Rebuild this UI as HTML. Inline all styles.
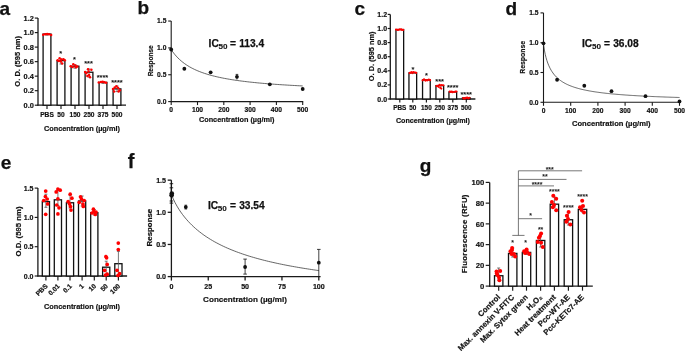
<!DOCTYPE html>
<html><head><meta charset="utf-8"><style>
html,body{margin:0;padding:0;background:#fff;width:685px;height:352px;overflow:hidden}
svg{display:block;will-change:transform;font-family:"Liberation Sans",sans-serif}
</style></head><body>
<svg width="685" height="352" viewBox="0 0 685 352">
<rect width="685" height="352" fill="#fff"/>
<text x="-0.60" y="14.50" font-size="19" text-anchor="start" font-weight="bold" fill="#111" stroke="#111" stroke-width="0.25">a</text>
<text x="137.50" y="14.20" font-size="19" text-anchor="start" font-weight="bold" fill="#111" stroke="#111" stroke-width="0.25">b</text>
<text x="354.40" y="14.80" font-size="19" text-anchor="start" font-weight="bold" fill="#111" stroke="#111" stroke-width="0.25">c</text>
<text x="505.50" y="14.50" font-size="19" text-anchor="start" font-weight="bold" fill="#111" stroke="#111" stroke-width="0.25">d</text>
<text x="0.80" y="168.90" font-size="19" text-anchor="start" font-weight="bold" fill="#111" stroke="#111" stroke-width="0.25">e</text>
<text x="127.80" y="168.30" font-size="20" text-anchor="start" font-weight="bold" fill="#111" stroke="#111" stroke-width="0.25">f</text>
<text x="419.70" y="172.00" font-size="19" text-anchor="start" font-weight="bold" fill="#111" stroke="#111" stroke-width="0.25">g</text>
<line x1="38.00" y1="18.08" x2="38.00" y2="105.80" stroke="#1a1a1a" stroke-width="1.3"/>
<line x1="34.80" y1="105.20" x2="38.00" y2="105.20" stroke="#1a1a1a" stroke-width="1.1700000000000002"/>
<text x="33.80" y="107.86" font-size="7.4" text-anchor="end" font-weight="bold" fill="#111" stroke="#111" stroke-width="0.18">0.0</text>
<line x1="34.80" y1="90.68" x2="38.00" y2="90.68" stroke="#1a1a1a" stroke-width="1.1700000000000002"/>
<text x="33.80" y="93.34" font-size="7.4" text-anchor="end" font-weight="bold" fill="#111" stroke="#111" stroke-width="0.18">0.2</text>
<line x1="34.80" y1="76.16" x2="38.00" y2="76.16" stroke="#1a1a1a" stroke-width="1.1700000000000002"/>
<text x="33.80" y="78.82" font-size="7.4" text-anchor="end" font-weight="bold" fill="#111" stroke="#111" stroke-width="0.18">0.4</text>
<line x1="34.80" y1="61.64" x2="38.00" y2="61.64" stroke="#1a1a1a" stroke-width="1.1700000000000002"/>
<text x="33.80" y="64.30" font-size="7.4" text-anchor="end" font-weight="bold" fill="#111" stroke="#111" stroke-width="0.18">0.6</text>
<line x1="34.80" y1="47.12" x2="38.00" y2="47.12" stroke="#1a1a1a" stroke-width="1.1700000000000002"/>
<text x="33.80" y="49.78" font-size="7.4" text-anchor="end" font-weight="bold" fill="#111" stroke="#111" stroke-width="0.18">0.8</text>
<line x1="34.80" y1="32.60" x2="38.00" y2="32.60" stroke="#1a1a1a" stroke-width="1.1700000000000002"/>
<text x="33.80" y="35.26" font-size="7.4" text-anchor="end" font-weight="bold" fill="#111" stroke="#111" stroke-width="0.18">1.0</text>
<line x1="34.80" y1="18.08" x2="38.00" y2="18.08" stroke="#1a1a1a" stroke-width="1.1700000000000002"/>
<text x="33.80" y="20.74" font-size="7.4" text-anchor="end" font-weight="bold" fill="#111" stroke="#111" stroke-width="0.18">1.2</text>
<line x1="37.40" y1="105.20" x2="126.00" y2="105.20" stroke="#1a1a1a" stroke-width="1.3"/>
<rect x="43.10" y="34.05" width="7.80" height="71.15" stroke="#111" stroke-width="1.3" fill="#fff"/>
<line x1="47.00" y1="105.20" x2="47.00" y2="108.90" stroke="#1a1a1a" stroke-width="1.1700000000000002"/>
<rect x="57.10" y="60.62" width="7.80" height="44.58" stroke="#111" stroke-width="1.3" fill="#fff"/>
<line x1="61.00" y1="105.20" x2="61.00" y2="108.90" stroke="#1a1a1a" stroke-width="1.1700000000000002"/>
<rect x="71.10" y="66.21" width="7.80" height="38.99" stroke="#111" stroke-width="1.3" fill="#fff"/>
<line x1="75.00" y1="105.20" x2="75.00" y2="108.90" stroke="#1a1a1a" stroke-width="1.1700000000000002"/>
<rect x="85.10" y="72.24" width="7.80" height="32.96" stroke="#111" stroke-width="1.3" fill="#fff"/>
<line x1="89.00" y1="105.20" x2="89.00" y2="108.90" stroke="#1a1a1a" stroke-width="1.1700000000000002"/>
<rect x="99.10" y="82.40" width="7.80" height="22.80" stroke="#111" stroke-width="1.3" fill="#fff"/>
<line x1="103.00" y1="105.20" x2="103.00" y2="108.90" stroke="#1a1a1a" stroke-width="1.1700000000000002"/>
<rect x="113.10" y="88.87" width="7.80" height="16.33" stroke="#111" stroke-width="1.3" fill="#fff"/>
<line x1="117.00" y1="105.20" x2="117.00" y2="108.90" stroke="#1a1a1a" stroke-width="1.1700000000000002"/>
<line x1="47.00" y1="33.80" x2="47.00" y2="35.20" stroke="#555" stroke-width="0.8"/>
<line x1="45.50" y1="33.80" x2="48.50" y2="33.80" stroke="#555" stroke-width="0.8"/>
<line x1="45.50" y1="35.20" x2="48.50" y2="35.20" stroke="#555" stroke-width="0.8"/>
<line x1="61.00" y1="59.00" x2="61.00" y2="64.00" stroke="#555" stroke-width="0.8"/>
<line x1="59.50" y1="59.00" x2="62.50" y2="59.00" stroke="#555" stroke-width="0.8"/>
<line x1="59.50" y1="64.00" x2="62.50" y2="64.00" stroke="#555" stroke-width="0.8"/>
<line x1="75.00" y1="64.80" x2="75.00" y2="68.20" stroke="#555" stroke-width="0.8"/>
<line x1="73.50" y1="64.80" x2="76.50" y2="64.80" stroke="#555" stroke-width="0.8"/>
<line x1="73.50" y1="68.20" x2="76.50" y2="68.20" stroke="#555" stroke-width="0.8"/>
<line x1="89.00" y1="69.00" x2="89.00" y2="77.00" stroke="#555" stroke-width="0.8"/>
<line x1="87.50" y1="69.00" x2="90.50" y2="69.00" stroke="#555" stroke-width="0.8"/>
<line x1="87.50" y1="77.00" x2="90.50" y2="77.00" stroke="#555" stroke-width="0.8"/>
<line x1="103.00" y1="81.80" x2="103.00" y2="83.40" stroke="#555" stroke-width="0.8"/>
<line x1="101.50" y1="81.80" x2="104.50" y2="81.80" stroke="#555" stroke-width="0.8"/>
<line x1="101.50" y1="83.40" x2="104.50" y2="83.40" stroke="#555" stroke-width="0.8"/>
<line x1="117.00" y1="86.00" x2="117.00" y2="91.60" stroke="#555" stroke-width="0.8"/>
<line x1="115.50" y1="86.00" x2="118.50" y2="86.00" stroke="#555" stroke-width="0.8"/>
<line x1="115.50" y1="91.60" x2="118.50" y2="91.60" stroke="#555" stroke-width="0.8"/>
<circle cx="43.20" cy="34.80" r="1.25" fill="#ff0000"/>
<circle cx="45.20" cy="34.20" r="1.25" fill="#ff0000"/>
<circle cx="47.20" cy="33.90" r="1.25" fill="#ff0000"/>
<circle cx="49.10" cy="34.20" r="1.25" fill="#ff0000"/>
<circle cx="51.10" cy="35.10" r="1.25" fill="#ff0000"/>
<circle cx="57.60" cy="60.30" r="1.25" fill="#ff0000"/>
<circle cx="59.60" cy="58.30" r="1.25" fill="#ff0000"/>
<circle cx="61.50" cy="59.60" r="1.25" fill="#ff0000"/>
<circle cx="63.50" cy="59.20" r="1.25" fill="#ff0000"/>
<circle cx="64.80" cy="60.30" r="1.25" fill="#ff0000"/>
<circle cx="60.90" cy="61.60" r="1.25" fill="#ff0000"/>
<circle cx="62.20" cy="63.60" r="1.25" fill="#ff0000"/>
<circle cx="58.90" cy="61.00" r="1.25" fill="#ff0000"/>
<circle cx="70.70" cy="66.20" r="1.25" fill="#ff0000"/>
<circle cx="73.30" cy="64.20" r="1.25" fill="#ff0000"/>
<circle cx="75.25" cy="65.50" r="1.25" fill="#ff0000"/>
<circle cx="77.20" cy="66.60" r="1.25" fill="#ff0000"/>
<circle cx="72.60" cy="67.10" r="1.25" fill="#ff0000"/>
<circle cx="76.00" cy="67.30" r="1.25" fill="#ff0000"/>
<circle cx="85.10" cy="72.00" r="1.25" fill="#ff0000"/>
<circle cx="88.00" cy="69.20" r="1.25" fill="#ff0000"/>
<circle cx="91.40" cy="69.80" r="1.25" fill="#ff0000"/>
<circle cx="88.50" cy="71.50" r="1.25" fill="#ff0000"/>
<circle cx="86.25" cy="73.20" r="1.25" fill="#ff0000"/>
<circle cx="89.10" cy="74.90" r="1.25" fill="#ff0000"/>
<circle cx="87.40" cy="76.00" r="1.25" fill="#ff0000"/>
<circle cx="90.00" cy="77.20" r="1.25" fill="#ff0000"/>
<circle cx="98.75" cy="82.50" r="1.25" fill="#ff0000"/>
<circle cx="101.00" cy="82.00" r="1.25" fill="#ff0000"/>
<circle cx="102.70" cy="81.80" r="1.25" fill="#ff0000"/>
<circle cx="104.40" cy="82.30" r="1.25" fill="#ff0000"/>
<circle cx="106.10" cy="82.80" r="1.25" fill="#ff0000"/>
<circle cx="113.00" cy="89.10" r="1.25" fill="#ff0000"/>
<circle cx="114.70" cy="87.40" r="1.25" fill="#ff0000"/>
<circle cx="116.40" cy="86.25" r="1.25" fill="#ff0000"/>
<circle cx="118.10" cy="88.00" r="1.25" fill="#ff0000"/>
<circle cx="119.80" cy="90.20" r="1.25" fill="#ff0000"/>
<circle cx="114.10" cy="91.40" r="1.25" fill="#ff0000"/>
<circle cx="118.60" cy="91.40" r="1.25" fill="#ff0000"/>
<text x="60.60" y="56.20" font-size="7.4" text-anchor="middle" font-weight="bold" fill="#111" stroke="#111" stroke-width="0.05">*</text>
<text x="74.40" y="62.20" font-size="7.4" text-anchor="middle" font-weight="bold" fill="#111" stroke="#111" stroke-width="0.05">*</text>
<text x="88.50" y="66.30" font-size="7.4" text-anchor="middle" font-weight="bold" fill="#111" stroke="#111" stroke-width="0.05">***</text>
<text x="102.40" y="80.20" font-size="7.4" text-anchor="middle" font-weight="bold" fill="#111" stroke="#111" stroke-width="0.05">****</text>
<text x="117.00" y="84.70" font-size="7.4" text-anchor="middle" font-weight="bold" fill="#111" stroke="#111" stroke-width="0.05">****</text>
<text x="47.00" y="116.98" font-size="6.6" text-anchor="middle" font-weight="bold" fill="#111" stroke="#111" stroke-width="0.18">PBS</text>
<text x="61.00" y="116.98" font-size="6.6" text-anchor="middle" font-weight="bold" fill="#111" stroke="#111" stroke-width="0.18">50</text>
<text x="75.00" y="116.98" font-size="6.6" text-anchor="middle" font-weight="bold" fill="#111" stroke="#111" stroke-width="0.18">150</text>
<text x="89.00" y="116.98" font-size="6.6" text-anchor="middle" font-weight="bold" fill="#111" stroke="#111" stroke-width="0.18">250</text>
<text x="103.00" y="116.98" font-size="6.6" text-anchor="middle" font-weight="bold" fill="#111" stroke="#111" stroke-width="0.18">375</text>
<text x="117.00" y="116.98" font-size="6.6" text-anchor="middle" font-weight="bold" fill="#111" stroke="#111" stroke-width="0.18">500</text>
<text x="19.90" y="61.30" font-size="7.55" text-anchor="middle" font-weight="bold" fill="#111" stroke="#111" stroke-width="0.18" transform="rotate(-90 19.90 61.30)">O. D. (595 nm)</text>
<text x="81.90" y="130.60" font-size="7.35" text-anchor="middle" font-weight="bold" fill="#111" stroke="#111" stroke-width="0.18">Concentration (µg/ml)</text>
<line x1="390.30" y1="14.40" x2="390.30" y2="99.60" stroke="#1a1a1a" stroke-width="1.3"/>
<line x1="387.70" y1="99.00" x2="390.30" y2="99.00" stroke="#1a1a1a" stroke-width="1.1700000000000002"/>
<text x="387.10" y="101.52" font-size="7.0" text-anchor="end" font-weight="bold" fill="#111" stroke="#111" stroke-width="0.18">0.0</text>
<line x1="387.70" y1="84.90" x2="390.30" y2="84.90" stroke="#1a1a1a" stroke-width="1.1700000000000002"/>
<text x="387.10" y="87.42" font-size="7.0" text-anchor="end" font-weight="bold" fill="#111" stroke="#111" stroke-width="0.18">0.2</text>
<line x1="387.70" y1="70.80" x2="390.30" y2="70.80" stroke="#1a1a1a" stroke-width="1.1700000000000002"/>
<text x="387.10" y="73.32" font-size="7.0" text-anchor="end" font-weight="bold" fill="#111" stroke="#111" stroke-width="0.18">0.4</text>
<line x1="387.70" y1="56.70" x2="390.30" y2="56.70" stroke="#1a1a1a" stroke-width="1.1700000000000002"/>
<text x="387.10" y="59.22" font-size="7.0" text-anchor="end" font-weight="bold" fill="#111" stroke="#111" stroke-width="0.18">0.6</text>
<line x1="387.70" y1="42.60" x2="390.30" y2="42.60" stroke="#1a1a1a" stroke-width="1.1700000000000002"/>
<text x="387.10" y="45.12" font-size="7.0" text-anchor="end" font-weight="bold" fill="#111" stroke="#111" stroke-width="0.18">0.8</text>
<line x1="387.70" y1="28.50" x2="390.30" y2="28.50" stroke="#1a1a1a" stroke-width="1.1700000000000002"/>
<text x="387.10" y="31.02" font-size="7.0" text-anchor="end" font-weight="bold" fill="#111" stroke="#111" stroke-width="0.18">1.0</text>
<line x1="387.70" y1="14.40" x2="390.30" y2="14.40" stroke="#1a1a1a" stroke-width="1.1700000000000002"/>
<text x="387.10" y="16.92" font-size="7.0" text-anchor="end" font-weight="bold" fill="#111" stroke="#111" stroke-width="0.18">1.2</text>
<line x1="389.70" y1="99.00" x2="475.40" y2="99.00" stroke="#1a1a1a" stroke-width="1.3"/>
<rect x="395.95" y="29.56" width="7.70" height="69.44" stroke="#111" stroke-width="1.3" fill="#fff"/>
<line x1="399.80" y1="99.00" x2="399.80" y2="102.60" stroke="#1a1a1a" stroke-width="1.1700000000000002"/>
<rect x="408.95" y="72.91" width="7.70" height="26.09" stroke="#111" stroke-width="1.3" fill="#fff"/>
<line x1="412.80" y1="99.00" x2="412.80" y2="102.60" stroke="#1a1a1a" stroke-width="1.1700000000000002"/>
<rect x="422.55" y="79.97" width="7.70" height="19.03" stroke="#111" stroke-width="1.3" fill="#fff"/>
<line x1="426.40" y1="99.00" x2="426.40" y2="102.60" stroke="#1a1a1a" stroke-width="1.1700000000000002"/>
<rect x="435.95" y="85.61" width="7.70" height="13.39" stroke="#111" stroke-width="1.3" fill="#fff"/>
<line x1="439.80" y1="99.00" x2="439.80" y2="102.60" stroke="#1a1a1a" stroke-width="1.1700000000000002"/>
<rect x="448.95" y="91.95" width="7.70" height="7.05" stroke="#111" stroke-width="1.3" fill="#fff"/>
<line x1="452.80" y1="99.00" x2="452.80" y2="102.60" stroke="#1a1a1a" stroke-width="1.1700000000000002"/>
<rect x="462.45" y="97.94" width="7.70" height="1.06" stroke="#111" stroke-width="1.3" fill="#fff"/>
<line x1="466.30" y1="99.00" x2="466.30" y2="102.60" stroke="#1a1a1a" stroke-width="1.1700000000000002"/>
<circle cx="396.07" cy="29.54" r="1.1" fill="#ff0000"/>
<circle cx="397.77" cy="29.88" r="1.1" fill="#ff0000"/>
<circle cx="398.34" cy="29.73" r="1.1" fill="#ff0000"/>
<circle cx="399.78" cy="29.46" r="1.1" fill="#ff0000"/>
<circle cx="401.12" cy="29.41" r="1.1" fill="#ff0000"/>
<circle cx="401.98" cy="29.82" r="1.1" fill="#ff0000"/>
<circle cx="403.14" cy="29.89" r="1.1" fill="#ff0000"/>
<circle cx="409.59" cy="73.04" r="1.1" fill="#ff0000"/>
<circle cx="410.36" cy="72.61" r="1.1" fill="#ff0000"/>
<circle cx="411.82" cy="72.11" r="1.1" fill="#ff0000"/>
<circle cx="412.40" cy="73.06" r="1.1" fill="#ff0000"/>
<circle cx="413.77" cy="72.14" r="1.1" fill="#ff0000"/>
<circle cx="415.38" cy="72.52" r="1.1" fill="#ff0000"/>
<circle cx="416.18" cy="72.78" r="1.1" fill="#ff0000"/>
<circle cx="422.62" cy="80.29" r="1.1" fill="#ff0000"/>
<circle cx="424.03" cy="79.43" r="1.1" fill="#ff0000"/>
<circle cx="425.40" cy="80.60" r="1.1" fill="#ff0000"/>
<circle cx="426.17" cy="80.18" r="1.1" fill="#ff0000"/>
<circle cx="427.37" cy="80.34" r="1.1" fill="#ff0000"/>
<circle cx="428.84" cy="79.61" r="1.1" fill="#ff0000"/>
<circle cx="430.06" cy="80.22" r="1.1" fill="#ff0000"/>
<circle cx="436.55" cy="86.11" r="1.1" fill="#ff0000"/>
<circle cx="437.70" cy="86.01" r="1.1" fill="#ff0000"/>
<circle cx="439.42" cy="84.96" r="1.1" fill="#ff0000"/>
<circle cx="440.76" cy="85.43" r="1.1" fill="#ff0000"/>
<circle cx="441.82" cy="85.03" r="1.1" fill="#ff0000"/>
<circle cx="443.36" cy="85.27" r="1.1" fill="#ff0000"/>
<circle cx="449.70" cy="91.63" r="1.1" fill="#ff0000"/>
<circle cx="450.58" cy="91.78" r="1.1" fill="#ff0000"/>
<circle cx="451.76" cy="91.54" r="1.1" fill="#ff0000"/>
<circle cx="452.54" cy="92.20" r="1.1" fill="#ff0000"/>
<circle cx="454.14" cy="91.98" r="1.1" fill="#ff0000"/>
<circle cx="455.40" cy="91.55" r="1.1" fill="#ff0000"/>
<circle cx="456.48" cy="91.50" r="1.1" fill="#ff0000"/>
<circle cx="463.27" cy="98.15" r="1.1" fill="#ff0000"/>
<circle cx="464.12" cy="98.56" r="1.1" fill="#ff0000"/>
<circle cx="465.40" cy="98.35" r="1.1" fill="#ff0000"/>
<circle cx="465.94" cy="97.84" r="1.1" fill="#ff0000"/>
<circle cx="467.10" cy="97.63" r="1.1" fill="#ff0000"/>
<circle cx="468.34" cy="98.43" r="1.1" fill="#ff0000"/>
<circle cx="469.40" cy="97.76" r="1.1" fill="#ff0000"/>
<circle cx="438.50" cy="86.80" r="1.1" fill="#ff0000"/>
<circle cx="440.20" cy="87.80" r="1.1" fill="#ff0000"/>
<circle cx="441.30" cy="88.60" r="1.1" fill="#ff0000"/>
<circle cx="437.20" cy="85.90" r="1.1" fill="#ff0000"/>
<text x="412.90" y="71.50" font-size="7.4" text-anchor="middle" font-weight="bold" fill="#111" stroke="#111" stroke-width="0.05">*</text>
<text x="426.50" y="78.10" font-size="7.4" text-anchor="middle" font-weight="bold" fill="#111" stroke="#111" stroke-width="0.05">*</text>
<text x="439.60" y="84.20" font-size="7.4" text-anchor="middle" font-weight="bold" fill="#111" stroke="#111" stroke-width="0.05">***</text>
<text x="452.70" y="90.00" font-size="7.4" text-anchor="middle" font-weight="bold" fill="#111" stroke="#111" stroke-width="0.05">****</text>
<text x="466.20" y="97.00" font-size="7.4" text-anchor="middle" font-weight="bold" fill="#111" stroke="#111" stroke-width="0.05">****</text>
<text x="399.80" y="109.50" font-size="6.4" text-anchor="middle" font-weight="bold" fill="#111" stroke="#111" stroke-width="0.18">PBS</text>
<text x="412.80" y="109.50" font-size="6.4" text-anchor="middle" font-weight="bold" fill="#111" stroke="#111" stroke-width="0.18">50</text>
<text x="426.40" y="109.50" font-size="6.4" text-anchor="middle" font-weight="bold" fill="#111" stroke="#111" stroke-width="0.18">150</text>
<text x="439.80" y="109.50" font-size="6.4" text-anchor="middle" font-weight="bold" fill="#111" stroke="#111" stroke-width="0.18">250</text>
<text x="452.80" y="109.50" font-size="6.4" text-anchor="middle" font-weight="bold" fill="#111" stroke="#111" stroke-width="0.18">375</text>
<text x="466.30" y="109.50" font-size="6.4" text-anchor="middle" font-weight="bold" fill="#111" stroke="#111" stroke-width="0.18">500</text>
<text x="374.20" y="56.30" font-size="7.4" text-anchor="middle" font-weight="bold" fill="#111" stroke="#111" stroke-width="0.18" transform="rotate(-90 374.20 56.30)">O. D. (595 nm)</text>
<text x="432.90" y="122.90" font-size="7.15" text-anchor="middle" font-weight="bold" fill="#111" stroke="#111" stroke-width="0.18">Concentration (µg/ml)</text>
<line x1="171.20" y1="21.05" x2="171.20" y2="102.10" stroke="#1a1a1a" stroke-width="1.1"/>
<line x1="168.20" y1="101.60" x2="171.20" y2="101.60" stroke="#1a1a1a" stroke-width="1.1"/>
<text x="166.40" y="104.01" font-size="6.7" text-anchor="end" font-weight="bold" fill="#111" stroke="#111" stroke-width="0.18">0.0</text>
<line x1="168.20" y1="74.75" x2="171.20" y2="74.75" stroke="#1a1a1a" stroke-width="1.1"/>
<text x="166.40" y="77.16" font-size="6.7" text-anchor="end" font-weight="bold" fill="#111" stroke="#111" stroke-width="0.18">0.5</text>
<line x1="168.20" y1="47.90" x2="171.20" y2="47.90" stroke="#1a1a1a" stroke-width="1.1"/>
<text x="166.40" y="50.31" font-size="6.7" text-anchor="end" font-weight="bold" fill="#111" stroke="#111" stroke-width="0.18">1.0</text>
<line x1="168.20" y1="21.05" x2="171.20" y2="21.05" stroke="#1a1a1a" stroke-width="1.1"/>
<text x="166.40" y="23.46" font-size="6.7" text-anchor="end" font-weight="bold" fill="#111" stroke="#111" stroke-width="0.18">1.5</text>
<line x1="170.70" y1="101.60" x2="303.20" y2="101.60" stroke="#1a1a1a" stroke-width="1.1"/>
<line x1="171.20" y1="101.60" x2="171.20" y2="105.10" stroke="#1a1a1a" stroke-width="1.1"/>
<text x="171.20" y="111.61" font-size="6.7" text-anchor="middle" font-weight="bold" fill="#111" stroke="#111" stroke-width="0.18">0</text>
<line x1="197.50" y1="101.60" x2="197.50" y2="105.10" stroke="#1a1a1a" stroke-width="1.1"/>
<text x="197.50" y="111.61" font-size="6.7" text-anchor="middle" font-weight="bold" fill="#111" stroke="#111" stroke-width="0.18">100</text>
<line x1="223.80" y1="101.60" x2="223.80" y2="105.10" stroke="#1a1a1a" stroke-width="1.1"/>
<text x="223.80" y="111.61" font-size="6.7" text-anchor="middle" font-weight="bold" fill="#111" stroke="#111" stroke-width="0.18">200</text>
<line x1="250.10" y1="101.60" x2="250.10" y2="105.10" stroke="#1a1a1a" stroke-width="1.1"/>
<text x="250.10" y="111.61" font-size="6.7" text-anchor="middle" font-weight="bold" fill="#111" stroke="#111" stroke-width="0.18">300</text>
<line x1="276.40" y1="101.60" x2="276.40" y2="105.10" stroke="#1a1a1a" stroke-width="1.1"/>
<text x="276.40" y="111.61" font-size="6.7" text-anchor="middle" font-weight="bold" fill="#111" stroke="#111" stroke-width="0.18">400</text>
<line x1="302.70" y1="101.60" x2="302.70" y2="105.10" stroke="#1a1a1a" stroke-width="1.1"/>
<text x="302.70" y="111.61" font-size="6.7" text-anchor="middle" font-weight="bold" fill="#111" stroke="#111" stroke-width="0.18">500</text>
<path d="M171.20,49.66 L172.86,52.01 L174.53,54.15 L176.19,56.09 L177.86,57.86 L179.52,59.47 L181.19,60.95 L182.85,62.31 L184.52,63.56 L186.18,64.72 L187.85,65.79 L189.51,66.79 L191.17,67.72 L192.84,68.59 L194.50,69.40 L196.17,70.16 L197.83,70.88 L199.50,71.55 L201.16,72.19 L202.83,72.79 L204.49,73.36 L206.16,73.90 L207.82,74.41 L209.48,74.90 L211.15,75.36 L212.81,75.80 L214.48,76.22 L216.14,76.62 L217.81,77.00 L219.47,77.37 L221.14,77.72 L222.80,78.06 L224.47,78.38 L226.13,78.69 L227.79,78.98 L229.46,79.27 L231.12,79.55 L232.79,79.81 L234.45,80.07 L236.12,80.31 L237.78,80.55 L239.45,80.78 L241.11,81.00 L242.78,81.21 L244.44,81.42 L246.11,81.62 L247.77,81.82 L249.43,82.00 L251.10,82.18 L252.76,82.36 L254.43,82.53 L256.09,82.70 L257.76,82.86 L259.42,83.02 L261.09,83.17 L262.75,83.32 L264.42,83.46 L266.08,83.60 L267.74,83.74 L269.41,83.87 L271.07,84.00 L272.74,84.12 L274.40,84.25 L276.07,84.37 L277.73,84.48 L279.40,84.60 L281.06,84.71 L282.73,84.82 L284.39,84.92 L286.05,85.03 L287.72,85.13 L289.38,85.23 L291.05,85.32 L292.71,85.42 L294.38,85.51 L296.04,85.60 L297.71,85.69 L299.37,85.77 L301.04,85.86 L302.70,85.94" fill="none" stroke="#333" stroke-width="0.75"/>
<circle cx="171.20" cy="49.51" r="1.9" fill="#111"/>
<circle cx="184.35" cy="68.74" r="1.9" fill="#111"/>
<circle cx="210.65" cy="72.33" r="1.9" fill="#111"/>
<circle cx="236.95" cy="76.79" r="1.9" fill="#111"/>
<circle cx="269.82" cy="84.31" r="1.9" fill="#111"/>
<circle cx="302.70" cy="88.98" r="1.9" fill="#111"/>
<line x1="236.95" y1="74.40" x2="236.95" y2="79.60" stroke="#111" stroke-width="0.8"/>
<line x1="235.65" y1="74.40" x2="238.25" y2="74.40" stroke="#111" stroke-width="0.8"/>
<text x="153.30" y="60.80" font-size="6.5" text-anchor="middle" font-weight="bold" fill="#111" stroke="#111" stroke-width="0.18" transform="rotate(-90 153.30 60.80)">Response</text>
<text x="236.70" y="122.00" font-size="7.3" text-anchor="middle" font-weight="bold" fill="#111" stroke="#111" stroke-width="0.18">Concentration (µg/ml)</text>
<text x="208.60" y="47.30" font-size="10.2" text-anchor="start" font-weight="bold" fill="#111" stroke="#111" stroke-width="0.25">IC</text>
<text x="218.60" y="49.20" font-size="8.1" text-anchor="start" font-weight="bold" fill="#111" stroke="#111" stroke-width="0.1">50</text>
<text x="230.00" y="47.30" font-size="10.2" text-anchor="start" font-weight="bold" fill="#111" stroke="#111" stroke-width="0.25">=</text>
<text x="239.20" y="47.30" font-size="10.2" text-anchor="start" font-weight="bold" fill="#111" stroke="#111" stroke-width="0.25">113.4</text>
<line x1="543.50" y1="12.90" x2="543.50" y2="102.80" stroke="#1a1a1a" stroke-width="1.1"/>
<line x1="540.50" y1="102.30" x2="543.50" y2="102.30" stroke="#1a1a1a" stroke-width="1.1"/>
<text x="538.60" y="104.71" font-size="6.7" text-anchor="end" font-weight="bold" fill="#111" stroke="#111" stroke-width="0.18">0.0</text>
<line x1="540.50" y1="72.50" x2="543.50" y2="72.50" stroke="#1a1a1a" stroke-width="1.1"/>
<text x="538.60" y="74.91" font-size="6.7" text-anchor="end" font-weight="bold" fill="#111" stroke="#111" stroke-width="0.18">0.5</text>
<line x1="540.50" y1="42.70" x2="543.50" y2="42.70" stroke="#1a1a1a" stroke-width="1.1"/>
<text x="538.60" y="45.11" font-size="6.7" text-anchor="end" font-weight="bold" fill="#111" stroke="#111" stroke-width="0.18">1.0</text>
<line x1="540.50" y1="12.90" x2="543.50" y2="12.90" stroke="#1a1a1a" stroke-width="1.1"/>
<text x="538.60" y="15.31" font-size="6.7" text-anchor="end" font-weight="bold" fill="#111" stroke="#111" stroke-width="0.18">1.5</text>
<line x1="543.00" y1="102.30" x2="680.00" y2="102.30" stroke="#1a1a1a" stroke-width="1.1"/>
<line x1="543.50" y1="102.30" x2="543.50" y2="105.80" stroke="#1a1a1a" stroke-width="1.1"/>
<text x="543.50" y="113.21" font-size="6.7" text-anchor="middle" font-weight="bold" fill="#111" stroke="#111" stroke-width="0.18">0</text>
<line x1="570.70" y1="102.30" x2="570.70" y2="105.80" stroke="#1a1a1a" stroke-width="1.1"/>
<text x="570.70" y="113.21" font-size="6.7" text-anchor="middle" font-weight="bold" fill="#111" stroke="#111" stroke-width="0.18">100</text>
<line x1="597.90" y1="102.30" x2="597.90" y2="105.80" stroke="#1a1a1a" stroke-width="1.1"/>
<text x="597.90" y="113.21" font-size="6.7" text-anchor="middle" font-weight="bold" fill="#111" stroke="#111" stroke-width="0.18">200</text>
<line x1="625.10" y1="102.30" x2="625.10" y2="105.80" stroke="#1a1a1a" stroke-width="1.1"/>
<text x="625.10" y="113.21" font-size="6.7" text-anchor="middle" font-weight="bold" fill="#111" stroke="#111" stroke-width="0.18">300</text>
<line x1="652.30" y1="102.30" x2="652.30" y2="105.80" stroke="#1a1a1a" stroke-width="1.1"/>
<text x="652.30" y="113.21" font-size="6.7" text-anchor="middle" font-weight="bold" fill="#111" stroke="#111" stroke-width="0.18">400</text>
<line x1="679.50" y1="102.30" x2="679.50" y2="105.80" stroke="#1a1a1a" stroke-width="1.1"/>
<text x="679.50" y="113.21" font-size="6.7" text-anchor="middle" font-weight="bold" fill="#111" stroke="#111" stroke-width="0.18">500</text>
<path d="M543.50,44.11 L544.36,50.05 L545.21,54.29 L546.07,57.72 L546.92,60.60 L547.78,63.07 L548.63,65.22 L549.49,67.12 L550.34,68.81 L551.20,70.33 L552.05,71.70 L552.91,72.95 L553.76,74.08 L554.62,75.13 L555.47,76.10 L556.33,76.99 L557.19,77.82 L558.04,78.59 L558.90,79.31 L559.75,79.98 L560.61,80.62 L561.46,81.21 L562.32,81.77 L563.17,82.30 L564.03,82.81 L564.88,83.28 L565.74,83.73 L566.59,84.16 L567.45,84.57 L568.31,84.96 L569.16,85.33 L570.02,85.68 L570.87,86.02 L571.73,86.34 L572.58,86.65 L573.44,86.95 L574.29,87.24 L575.15,87.51 L576.00,87.78 L576.86,88.03 L577.71,88.28 L578.57,88.52 L579.42,88.74 L580.28,88.97 L581.14,89.18 L581.99,89.38 L582.85,89.58 L583.70,89.78 L584.56,89.96 L585.41,90.14 L586.27,90.32 L587.12,90.49 L587.98,90.65 L588.83,90.81 L589.69,90.97 L590.54,91.12 L591.40,91.27 L592.25,91.41 L593.11,91.55 L593.97,91.69 L594.82,91.82 L595.68,91.95 L596.53,92.07 L597.39,92.19 L598.24,92.31 L599.10,92.43 L599.95,92.54 L600.81,92.65 L601.66,92.76 L602.52,92.87 L603.37,92.97 L604.23,93.07 L605.08,93.17 L605.94,93.27 L606.80,93.36 L607.65,93.45 L608.51,93.54 L609.36,93.63 L610.22,93.72 L611.07,93.80 L611.93,93.89 L612.78,93.97 L613.64,94.05 L614.49,94.12 L615.35,94.20 L616.20,94.28 L617.06,94.35 L617.92,94.42 L618.77,94.49 L619.63,94.56 L620.48,94.63 L621.34,94.70 L622.19,94.76 L623.05,94.83 L623.90,94.89 L624.76,94.95 L625.61,95.02 L626.47,95.08 L627.32,95.13 L628.18,95.19 L629.03,95.25 L629.89,95.31 L630.75,95.36 L631.60,95.42 L632.46,95.47 L633.31,95.52 L634.17,95.57 L635.02,95.63 L635.88,95.68 L636.73,95.73 L637.59,95.77 L638.44,95.82 L639.30,95.87 L640.15,95.92 L641.01,95.96 L641.86,96.01 L642.72,96.05 L643.58,96.10 L644.43,96.14 L645.29,96.18 L646.14,96.22 L647.00,96.26 L647.85,96.31 L648.71,96.35 L649.56,96.39 L650.42,96.42 L651.27,96.46 L652.13,96.50 L652.98,96.54 L653.84,96.58 L654.69,96.61 L655.55,96.65 L656.41,96.68 L657.26,96.72 L658.12,96.75 L658.97,96.79 L659.83,96.82 L660.68,96.86 L661.54,96.89 L662.39,96.92 L663.25,96.95 L664.10,96.99 L664.96,97.02 L665.81,97.05 L666.67,97.08 L667.53,97.11 L668.38,97.14 L669.24,97.17 L670.09,97.20 L670.95,97.23 L671.80,97.25 L672.66,97.28 L673.51,97.31 L674.37,97.34 L675.22,97.37 L676.08,97.39 L676.93,97.42 L677.79,97.45 L678.64,97.47 L679.50,97.50" fill="none" stroke="#333" stroke-width="0.75"/>
<circle cx="543.50" cy="43.30" r="1.9" fill="#111"/>
<circle cx="557.10" cy="79.77" r="1.9" fill="#111"/>
<circle cx="584.30" cy="85.73" r="1.9" fill="#111"/>
<circle cx="611.50" cy="91.21" r="1.9" fill="#111"/>
<circle cx="645.50" cy="96.22" r="1.9" fill="#111"/>
<circle cx="679.50" cy="101.41" r="1.9" fill="#111"/>
<text x="524.60" y="57.30" font-size="6.9" text-anchor="middle" font-weight="bold" fill="#111" stroke="#111" stroke-width="0.18" transform="rotate(-90 524.60 57.30)">Response</text>
<text x="611.30" y="125.90" font-size="7.6" text-anchor="middle" font-weight="bold" fill="#111" stroke="#111" stroke-width="0.18">Concentration (µg/ml)</text>
<text x="582.00" y="47.30" font-size="10.2" text-anchor="start" font-weight="bold" fill="#111" stroke="#111" stroke-width="0.25">IC</text>
<text x="592.00" y="49.20" font-size="8.1" text-anchor="start" font-weight="bold" fill="#111" stroke="#111" stroke-width="0.1">50</text>
<text x="604.00" y="47.30" font-size="10.2" text-anchor="start" font-weight="bold" fill="#111" stroke="#111" stroke-width="0.25">=</text>
<text x="613.20" y="47.30" font-size="10.2" text-anchor="start" font-weight="bold" fill="#111" stroke="#111" stroke-width="0.25">36.08</text>
<line x1="37.90" y1="188.10" x2="37.90" y2="276.60" stroke="#1a1a1a" stroke-width="1.3"/>
<line x1="34.70" y1="276.00" x2="37.90" y2="276.00" stroke="#1a1a1a" stroke-width="1.1700000000000002"/>
<text x="33.50" y="278.52" font-size="7.0" text-anchor="end" font-weight="bold" fill="#111" stroke="#111" stroke-width="0.18">0.0</text>
<line x1="34.70" y1="246.70" x2="37.90" y2="246.70" stroke="#1a1a1a" stroke-width="1.1700000000000002"/>
<text x="33.50" y="249.22" font-size="7.0" text-anchor="end" font-weight="bold" fill="#111" stroke="#111" stroke-width="0.18">0.5</text>
<line x1="34.70" y1="217.40" x2="37.90" y2="217.40" stroke="#1a1a1a" stroke-width="1.1700000000000002"/>
<text x="33.50" y="219.92" font-size="7.0" text-anchor="end" font-weight="bold" fill="#111" stroke="#111" stroke-width="0.18">1.0</text>
<line x1="34.70" y1="188.10" x2="37.90" y2="188.10" stroke="#1a1a1a" stroke-width="1.1700000000000002"/>
<text x="33.50" y="190.62" font-size="7.0" text-anchor="end" font-weight="bold" fill="#111" stroke="#111" stroke-width="0.18">1.5</text>
<line x1="37.30" y1="276.00" x2="127.10" y2="276.00" stroke="#1a1a1a" stroke-width="1.3"/>
<rect x="42.30" y="201.58" width="7.20" height="74.42" stroke="#111" stroke-width="1.3" fill="#fff"/>
<line x1="45.90" y1="276.00" x2="45.90" y2="280.50" stroke="#1a1a1a" stroke-width="1.1700000000000002"/>
<rect x="54.30" y="199.82" width="7.20" height="76.18" stroke="#111" stroke-width="1.3" fill="#fff"/>
<line x1="57.90" y1="276.00" x2="57.90" y2="280.50" stroke="#1a1a1a" stroke-width="1.1700000000000002"/>
<rect x="66.40" y="202.75" width="7.20" height="73.25" stroke="#111" stroke-width="1.3" fill="#fff"/>
<line x1="70.00" y1="276.00" x2="70.00" y2="280.50" stroke="#1a1a1a" stroke-width="1.1700000000000002"/>
<rect x="78.50" y="200.99" width="7.20" height="75.01" stroke="#111" stroke-width="1.3" fill="#fff"/>
<line x1="82.10" y1="276.00" x2="82.10" y2="280.50" stroke="#1a1a1a" stroke-width="1.1700000000000002"/>
<rect x="90.70" y="212.71" width="7.20" height="63.29" stroke="#111" stroke-width="1.3" fill="#fff"/>
<line x1="94.30" y1="276.00" x2="94.30" y2="280.50" stroke="#1a1a1a" stroke-width="1.1700000000000002"/>
<rect x="102.60" y="267.21" width="7.20" height="8.79" stroke="#111" stroke-width="1.3" fill="#fff"/>
<line x1="106.20" y1="276.00" x2="106.20" y2="280.50" stroke="#1a1a1a" stroke-width="1.1700000000000002"/>
<rect x="114.80" y="263.69" width="7.20" height="12.31" stroke="#111" stroke-width="1.3" fill="#fff"/>
<line x1="118.40" y1="276.00" x2="118.40" y2="280.50" stroke="#1a1a1a" stroke-width="1.1700000000000002"/>
<line x1="45.90" y1="194.20" x2="45.90" y2="207.30" stroke="#555" stroke-width="0.8"/>
<line x1="44.40" y1="194.20" x2="47.40" y2="194.20" stroke="#555" stroke-width="0.8"/>
<line x1="44.40" y1="207.30" x2="47.40" y2="207.30" stroke="#555" stroke-width="0.8"/>
<line x1="57.90" y1="190.20" x2="57.90" y2="205.50" stroke="#555" stroke-width="0.8"/>
<line x1="56.40" y1="190.20" x2="59.40" y2="190.20" stroke="#555" stroke-width="0.8"/>
<line x1="56.40" y1="205.50" x2="59.40" y2="205.50" stroke="#555" stroke-width="0.8"/>
<line x1="70.00" y1="195.00" x2="70.00" y2="208.00" stroke="#555" stroke-width="0.8"/>
<line x1="68.50" y1="195.00" x2="71.50" y2="195.00" stroke="#555" stroke-width="0.8"/>
<line x1="68.50" y1="208.00" x2="71.50" y2="208.00" stroke="#555" stroke-width="0.8"/>
<line x1="82.10" y1="196.00" x2="82.10" y2="206.00" stroke="#555" stroke-width="0.8"/>
<line x1="80.60" y1="196.00" x2="83.60" y2="196.00" stroke="#555" stroke-width="0.8"/>
<line x1="80.60" y1="206.00" x2="83.60" y2="206.00" stroke="#555" stroke-width="0.8"/>
<line x1="94.30" y1="209.50" x2="94.30" y2="215.00" stroke="#555" stroke-width="0.8"/>
<line x1="92.80" y1="209.50" x2="95.80" y2="209.50" stroke="#555" stroke-width="0.8"/>
<line x1="92.80" y1="215.00" x2="95.80" y2="215.00" stroke="#555" stroke-width="0.8"/>
<line x1="106.20" y1="261.20" x2="106.20" y2="275.00" stroke="#555" stroke-width="0.8"/>
<line x1="104.70" y1="261.20" x2="107.70" y2="261.20" stroke="#555" stroke-width="0.8"/>
<line x1="104.70" y1="275.00" x2="107.70" y2="275.00" stroke="#555" stroke-width="0.8"/>
<line x1="118.40" y1="251.40" x2="118.40" y2="276.00" stroke="#555" stroke-width="0.8"/>
<line x1="116.90" y1="251.40" x2="119.90" y2="251.40" stroke="#555" stroke-width="0.8"/>
<line x1="116.90" y1="276.00" x2="119.90" y2="276.00" stroke="#555" stroke-width="0.8"/>
<circle cx="45.70" cy="191.10" r="1.85" fill="#ff0000"/>
<circle cx="45.40" cy="196.50" r="1.85" fill="#ff0000"/>
<circle cx="43.70" cy="200.50" r="1.85" fill="#ff0000"/>
<circle cx="47.70" cy="203.90" r="1.85" fill="#ff0000"/>
<circle cx="45.70" cy="214.30" r="1.85" fill="#ff0000"/>
<circle cx="47.20" cy="199.00" r="1.85" fill="#ff0000"/>
<circle cx="56.20" cy="191.90" r="1.85" fill="#ff0000"/>
<circle cx="57.90" cy="189.10" r="1.85" fill="#ff0000"/>
<circle cx="60.20" cy="190.20" r="1.85" fill="#ff0000"/>
<circle cx="57.90" cy="198.75" r="1.85" fill="#ff0000"/>
<circle cx="56.75" cy="205.00" r="1.85" fill="#ff0000"/>
<circle cx="59.00" cy="207.80" r="1.85" fill="#ff0000"/>
<circle cx="57.90" cy="213.90" r="1.85" fill="#ff0000"/>
<circle cx="70.20" cy="194.20" r="1.85" fill="#ff0000"/>
<circle cx="71.90" cy="198.20" r="1.85" fill="#ff0000"/>
<circle cx="68.10" cy="201.60" r="1.85" fill="#ff0000"/>
<circle cx="69.60" cy="203.90" r="1.85" fill="#ff0000"/>
<circle cx="71.00" cy="210.10" r="1.85" fill="#ff0000"/>
<circle cx="70.50" cy="206.50" r="1.85" fill="#ff0000"/>
<circle cx="80.50" cy="196.80" r="1.85" fill="#ff0000"/>
<circle cx="84.20" cy="200.50" r="1.85" fill="#ff0000"/>
<circle cx="79.20" cy="202.30" r="1.85" fill="#ff0000"/>
<circle cx="83.00" cy="204.00" r="1.85" fill="#ff0000"/>
<circle cx="83.30" cy="206.40" r="1.85" fill="#ff0000"/>
<circle cx="81.50" cy="199.00" r="1.85" fill="#ff0000"/>
<circle cx="93.40" cy="209.20" r="1.85" fill="#ff0000"/>
<circle cx="95.30" cy="214.40" r="1.85" fill="#ff0000"/>
<circle cx="92.00" cy="213.00" r="1.85" fill="#ff0000"/>
<circle cx="96.00" cy="212.00" r="1.85" fill="#ff0000"/>
<circle cx="94.00" cy="211.50" r="1.85" fill="#ff0000"/>
<circle cx="105.90" cy="256.50" r="1.85" fill="#ff0000"/>
<circle cx="106.60" cy="257.80" r="1.85" fill="#ff0000"/>
<circle cx="107.20" cy="264.40" r="1.85" fill="#ff0000"/>
<circle cx="104.60" cy="270.30" r="1.85" fill="#ff0000"/>
<circle cx="107.20" cy="274.20" r="1.85" fill="#ff0000"/>
<circle cx="105.50" cy="275.00" r="1.85" fill="#ff0000"/>
<circle cx="118.30" cy="243.10" r="1.85" fill="#ff0000"/>
<circle cx="118.30" cy="249.50" r="1.85" fill="#ff0000"/>
<circle cx="117.00" cy="270.30" r="1.85" fill="#ff0000"/>
<circle cx="119.60" cy="273.50" r="1.85" fill="#ff0000"/>
<circle cx="118.00" cy="275.50" r="1.85" fill="#ff0000"/>
<text x="45.90" y="2.30" font-size="6.4" text-anchor="middle" font-weight="bold" fill="#111" stroke="#111" stroke-width="0.18"></text>
<text x="57.90" y="2.30" font-size="6.4" text-anchor="middle" font-weight="bold" fill="#111" stroke="#111" stroke-width="0.18"></text>
<text x="70.00" y="2.30" font-size="6.4" text-anchor="middle" font-weight="bold" fill="#111" stroke="#111" stroke-width="0.18"></text>
<text x="82.10" y="2.30" font-size="6.4" text-anchor="middle" font-weight="bold" fill="#111" stroke="#111" stroke-width="0.18"></text>
<text x="94.30" y="2.30" font-size="6.4" text-anchor="middle" font-weight="bold" fill="#111" stroke="#111" stroke-width="0.18"></text>
<text x="106.20" y="2.30" font-size="6.4" text-anchor="middle" font-weight="bold" fill="#111" stroke="#111" stroke-width="0.18"></text>
<text x="118.40" y="2.30" font-size="6.4" text-anchor="middle" font-weight="bold" fill="#111" stroke="#111" stroke-width="0.18"></text>
<text x="48.20" y="286.60" font-size="6.7" text-anchor="end" font-weight="bold" fill="#111" stroke="#111" stroke-width="0.18" transform="rotate(-45 48.20 286.60)">PBS</text>
<text x="60.20" y="286.60" font-size="6.7" text-anchor="end" font-weight="bold" fill="#111" stroke="#111" stroke-width="0.18" transform="rotate(-45 60.20 286.60)">0.01</text>
<text x="72.30" y="286.60" font-size="6.7" text-anchor="end" font-weight="bold" fill="#111" stroke="#111" stroke-width="0.18" transform="rotate(-45 72.30 286.60)">0.1</text>
<text x="84.40" y="286.60" font-size="6.7" text-anchor="end" font-weight="bold" fill="#111" stroke="#111" stroke-width="0.18" transform="rotate(-45 84.40 286.60)">1</text>
<text x="96.60" y="286.60" font-size="6.7" text-anchor="end" font-weight="bold" fill="#111" stroke="#111" stroke-width="0.18" transform="rotate(-45 96.60 286.60)">10</text>
<text x="108.50" y="286.60" font-size="6.7" text-anchor="end" font-weight="bold" fill="#111" stroke="#111" stroke-width="0.18" transform="rotate(-45 108.50 286.60)">50</text>
<text x="120.70" y="286.60" font-size="6.7" text-anchor="end" font-weight="bold" fill="#111" stroke="#111" stroke-width="0.18" transform="rotate(-45 120.70 286.60)">100</text>
<text x="20.60" y="231.50" font-size="7.75" text-anchor="middle" font-weight="bold" fill="#111" stroke="#111" stroke-width="0.18" transform="rotate(-90 20.60 231.50)">O.D. (595 nm)</text>
<text x="82.00" y="308.80" font-size="7.35" text-anchor="middle" font-weight="bold" fill="#111" stroke="#111" stroke-width="0.18">Concentration (µg/ml)</text>
<line x1="171.40" y1="180.15" x2="171.40" y2="277.10" stroke="#1a1a1a" stroke-width="1.3"/>
<line x1="167.70" y1="276.60" x2="171.40" y2="276.60" stroke="#1a1a1a" stroke-width="1.3"/>
<text x="166.00" y="279.16" font-size="7.1" text-anchor="end" font-weight="bold" fill="#111" stroke="#111" stroke-width="0.18">0.0</text>
<line x1="167.70" y1="244.45" x2="171.40" y2="244.45" stroke="#1a1a1a" stroke-width="1.3"/>
<text x="166.00" y="247.01" font-size="7.1" text-anchor="end" font-weight="bold" fill="#111" stroke="#111" stroke-width="0.18">0.5</text>
<line x1="167.70" y1="212.30" x2="171.40" y2="212.30" stroke="#1a1a1a" stroke-width="1.3"/>
<text x="166.00" y="214.86" font-size="7.1" text-anchor="end" font-weight="bold" fill="#111" stroke="#111" stroke-width="0.18">1.0</text>
<line x1="167.70" y1="180.15" x2="171.40" y2="180.15" stroke="#1a1a1a" stroke-width="1.3"/>
<text x="166.00" y="182.71" font-size="7.1" text-anchor="end" font-weight="bold" fill="#111" stroke="#111" stroke-width="0.18">1.5</text>
<line x1="170.90" y1="276.60" x2="320.60" y2="276.60" stroke="#1a1a1a" stroke-width="1.3"/>
<line x1="171.40" y1="276.60" x2="171.40" y2="280.60" stroke="#1a1a1a" stroke-width="1.3"/>
<text x="171.40" y="288.76" font-size="7.1" text-anchor="middle" font-weight="bold" fill="#111" stroke="#111" stroke-width="0.18">0</text>
<line x1="208.25" y1="276.60" x2="208.25" y2="280.60" stroke="#1a1a1a" stroke-width="1.3"/>
<text x="208.25" y="288.76" font-size="7.1" text-anchor="middle" font-weight="bold" fill="#111" stroke="#111" stroke-width="0.18">25</text>
<line x1="245.10" y1="276.60" x2="245.10" y2="280.60" stroke="#1a1a1a" stroke-width="1.3"/>
<text x="245.10" y="288.76" font-size="7.1" text-anchor="middle" font-weight="bold" fill="#111" stroke="#111" stroke-width="0.18">50</text>
<line x1="281.95" y1="276.60" x2="281.95" y2="280.60" stroke="#1a1a1a" stroke-width="1.3"/>
<text x="281.95" y="288.76" font-size="7.1" text-anchor="middle" font-weight="bold" fill="#111" stroke="#111" stroke-width="0.18">75</text>
<line x1="318.80" y1="276.60" x2="318.80" y2="280.60" stroke="#1a1a1a" stroke-width="1.3"/>
<text x="318.80" y="288.76" font-size="7.1" text-anchor="middle" font-weight="bold" fill="#111" stroke="#111" stroke-width="0.18">100</text>
<path d="M171.40,194.06 L173.27,198.92 L175.13,202.76 L177.00,206.15 L178.86,209.21 L180.73,212.00 L182.59,214.59 L184.46,216.99 L186.33,219.23 L188.19,221.33 L190.06,223.31 L191.92,225.17 L193.79,226.93 L195.66,228.60 L197.52,230.19 L199.39,231.70 L201.25,233.14 L203.12,234.52 L204.98,235.83 L206.85,237.09 L208.72,238.29 L210.58,239.45 L212.45,240.56 L214.31,241.63 L216.18,242.65 L218.05,243.64 L219.91,244.60 L221.78,245.52 L223.64,246.41 L225.51,247.27 L227.37,248.10 L229.24,248.90 L231.11,249.68 L232.97,250.43 L234.84,251.16 L236.70,251.87 L238.57,252.56 L240.44,253.23 L242.30,253.88 L244.17,254.51 L246.03,255.12 L247.90,255.72 L249.76,256.30 L251.63,256.86 L253.50,257.41 L255.36,257.95 L257.23,258.47 L259.09,258.98 L260.96,259.48 L262.83,259.97 L264.69,260.44 L266.56,260.90 L268.42,261.36 L270.29,261.80 L272.15,262.23 L274.02,262.65 L275.89,263.06 L277.75,263.47 L279.62,263.86 L281.48,264.25 L283.35,264.63 L285.22,265.00 L287.08,265.36 L288.95,265.72 L290.81,266.07 L292.68,266.41 L294.54,266.74 L296.41,267.07 L298.28,267.40 L300.14,267.71 L302.01,268.02 L303.87,268.33 L305.74,268.63 L307.61,268.92 L309.47,269.21 L311.34,269.49 L313.20,269.77 L315.07,270.04 L316.93,270.31 L318.80,270.57" fill="none" stroke="#333" stroke-width="0.75"/>
<line x1="171.40" y1="183.70" x2="171.40" y2="203.10" stroke="#111" stroke-width="0.9"/>
<line x1="169.60" y1="183.70" x2="173.20" y2="183.70" stroke="#111" stroke-width="0.9"/>
<line x1="169.60" y1="203.10" x2="173.20" y2="203.10" stroke="#111" stroke-width="0.9"/>
<line x1="171.40" y1="187.80" x2="171.40" y2="201.00" stroke="#111" stroke-width="0.9"/>
<line x1="169.60" y1="187.80" x2="173.20" y2="187.80" stroke="#111" stroke-width="0.9"/>
<line x1="169.60" y1="201.00" x2="173.20" y2="201.00" stroke="#111" stroke-width="0.9"/>
<circle cx="171.80" cy="193.60" r="2.3" fill="#111"/>
<circle cx="171.60" cy="195.20" r="2.3" fill="#111"/>
<circle cx="185.80" cy="207.10" r="1.9" fill="#111"/>
<line x1="185.80" y1="205.20" x2="185.80" y2="209.00" stroke="#111" stroke-width="0.8"/>
<line x1="184.50" y1="205.20" x2="187.10" y2="205.20" stroke="#111" stroke-width="0.8"/>
<line x1="184.50" y1="209.00" x2="187.10" y2="209.00" stroke="#111" stroke-width="0.8"/>
<circle cx="245.10" cy="267.00" r="1.9" fill="#111"/>
<line x1="245.10" y1="259.10" x2="245.10" y2="274.10" stroke="#111" stroke-width="0.8"/>
<line x1="243.30" y1="259.10" x2="246.90" y2="259.10" stroke="#111" stroke-width="0.8"/>
<line x1="243.30" y1="274.10" x2="246.90" y2="274.10" stroke="#111" stroke-width="0.8"/>
<circle cx="318.80" cy="262.70" r="1.9" fill="#111"/>
<line x1="318.80" y1="249.40" x2="318.80" y2="276.00" stroke="#111" stroke-width="0.8"/>
<line x1="317.00" y1="249.40" x2="320.60" y2="249.40" stroke="#111" stroke-width="0.8"/>
<text x="152.00" y="227.60" font-size="7.9" text-anchor="middle" font-weight="bold" fill="#111" stroke="#111" stroke-width="0.18" transform="rotate(-90 152.00 227.60)">Response</text>
<text x="245.00" y="301.90" font-size="8.1" text-anchor="middle" font-weight="bold" fill="#111" stroke="#111" stroke-width="0.18">Concentration (µg/ml)</text>
<text x="208.00" y="208.80" font-size="10.2" text-anchor="start" font-weight="bold" fill="#111" stroke="#111" stroke-width="0.25">IC</text>
<text x="217.80" y="210.70" font-size="8.1" text-anchor="start" font-weight="bold" fill="#111" stroke="#111" stroke-width="0.1">50</text>
<text x="230.00" y="208.80" font-size="10.2" text-anchor="start" font-weight="bold" fill="#111" stroke="#111" stroke-width="0.25">=</text>
<text x="239.20" y="208.80" font-size="10.2" text-anchor="start" font-weight="bold" fill="#111" stroke="#111" stroke-width="0.25">33.54</text>
<line x1="489.70" y1="182.40" x2="489.70" y2="286.70" stroke="#1a1a1a" stroke-width="1.3"/>
<line x1="485.70" y1="286.10" x2="489.70" y2="286.10" stroke="#1a1a1a" stroke-width="1.1700000000000002"/>
<text x="484.40" y="288.87" font-size="7.7" text-anchor="end" font-weight="bold" fill="#111" stroke="#111" stroke-width="0.18">0</text>
<line x1="485.70" y1="265.36" x2="489.70" y2="265.36" stroke="#1a1a1a" stroke-width="1.1700000000000002"/>
<text x="484.40" y="268.13" font-size="7.7" text-anchor="end" font-weight="bold" fill="#111" stroke="#111" stroke-width="0.18">20</text>
<line x1="485.70" y1="244.62" x2="489.70" y2="244.62" stroke="#1a1a1a" stroke-width="1.1700000000000002"/>
<text x="484.40" y="247.39" font-size="7.7" text-anchor="end" font-weight="bold" fill="#111" stroke="#111" stroke-width="0.18">40</text>
<line x1="485.70" y1="223.88" x2="489.70" y2="223.88" stroke="#1a1a1a" stroke-width="1.1700000000000002"/>
<text x="484.40" y="226.65" font-size="7.7" text-anchor="end" font-weight="bold" fill="#111" stroke="#111" stroke-width="0.18">60</text>
<line x1="485.70" y1="203.14" x2="489.70" y2="203.14" stroke="#1a1a1a" stroke-width="1.1700000000000002"/>
<text x="484.40" y="205.91" font-size="7.7" text-anchor="end" font-weight="bold" fill="#111" stroke="#111" stroke-width="0.18">80</text>
<line x1="485.70" y1="182.40" x2="489.70" y2="182.40" stroke="#1a1a1a" stroke-width="1.1700000000000002"/>
<text x="484.40" y="185.17" font-size="7.7" text-anchor="end" font-weight="bold" fill="#111" stroke="#111" stroke-width="0.18">100</text>
<line x1="489.10" y1="286.10" x2="592.80" y2="286.10" stroke="#1a1a1a" stroke-width="1.3"/>
<rect x="494.50" y="275.73" width="8.40" height="10.37" stroke="#111" stroke-width="1.3" fill="#fff"/>
<line x1="498.70" y1="286.10" x2="498.70" y2="290.70" stroke="#1a1a1a" stroke-width="1.1700000000000002"/>
<rect x="508.50" y="253.43" width="8.40" height="32.67" stroke="#111" stroke-width="1.3" fill="#fff"/>
<line x1="512.70" y1="286.10" x2="512.70" y2="290.70" stroke="#1a1a1a" stroke-width="1.1700000000000002"/>
<rect x="522.30" y="252.40" width="8.40" height="33.70" stroke="#111" stroke-width="1.3" fill="#fff"/>
<line x1="526.50" y1="286.10" x2="526.50" y2="290.70" stroke="#1a1a1a" stroke-width="1.1700000000000002"/>
<rect x="536.40" y="240.47" width="8.40" height="45.63" stroke="#111" stroke-width="1.3" fill="#fff"/>
<line x1="540.60" y1="286.10" x2="540.60" y2="290.70" stroke="#1a1a1a" stroke-width="1.1700000000000002"/>
<rect x="550.20" y="204.18" width="8.40" height="81.92" stroke="#111" stroke-width="1.3" fill="#fff"/>
<line x1="554.40" y1="286.10" x2="554.40" y2="290.70" stroke="#1a1a1a" stroke-width="1.1700000000000002"/>
<rect x="564.20" y="219.73" width="8.40" height="66.37" stroke="#111" stroke-width="1.3" fill="#fff"/>
<line x1="568.40" y1="286.10" x2="568.40" y2="290.70" stroke="#1a1a1a" stroke-width="1.1700000000000002"/>
<rect x="578.30" y="209.36" width="8.40" height="76.74" stroke="#111" stroke-width="1.3" fill="#fff"/>
<line x1="582.50" y1="286.10" x2="582.50" y2="290.70" stroke="#1a1a1a" stroke-width="1.1700000000000002"/>
<line x1="498.70" y1="268.00" x2="498.70" y2="280.00" stroke="#555" stroke-width="0.8"/>
<line x1="497.20" y1="268.00" x2="500.20" y2="268.00" stroke="#555" stroke-width="0.8"/>
<line x1="497.20" y1="280.00" x2="500.20" y2="280.00" stroke="#555" stroke-width="0.8"/>
<line x1="512.70" y1="248.00" x2="512.70" y2="257.00" stroke="#555" stroke-width="0.8"/>
<line x1="511.20" y1="248.00" x2="514.20" y2="248.00" stroke="#555" stroke-width="0.8"/>
<line x1="511.20" y1="257.00" x2="514.20" y2="257.00" stroke="#555" stroke-width="0.8"/>
<line x1="526.50" y1="249.00" x2="526.50" y2="254.50" stroke="#555" stroke-width="0.8"/>
<line x1="525.00" y1="249.00" x2="528.00" y2="249.00" stroke="#555" stroke-width="0.8"/>
<line x1="525.00" y1="254.50" x2="528.00" y2="254.50" stroke="#555" stroke-width="0.8"/>
<line x1="540.60" y1="234.00" x2="540.60" y2="247.00" stroke="#555" stroke-width="0.8"/>
<line x1="539.10" y1="234.00" x2="542.10" y2="234.00" stroke="#555" stroke-width="0.8"/>
<line x1="539.10" y1="247.00" x2="542.10" y2="247.00" stroke="#555" stroke-width="0.8"/>
<line x1="554.40" y1="197.00" x2="554.40" y2="207.00" stroke="#555" stroke-width="0.8"/>
<line x1="552.90" y1="197.00" x2="555.90" y2="197.00" stroke="#555" stroke-width="0.8"/>
<line x1="552.90" y1="207.00" x2="555.90" y2="207.00" stroke="#555" stroke-width="0.8"/>
<line x1="568.40" y1="212.50" x2="568.40" y2="225.00" stroke="#555" stroke-width="0.8"/>
<line x1="566.90" y1="212.50" x2="569.90" y2="212.50" stroke="#555" stroke-width="0.8"/>
<line x1="566.90" y1="225.00" x2="569.90" y2="225.00" stroke="#555" stroke-width="0.8"/>
<line x1="582.50" y1="205.60" x2="582.50" y2="212.00" stroke="#555" stroke-width="0.8"/>
<line x1="581.00" y1="205.60" x2="584.00" y2="205.60" stroke="#555" stroke-width="0.8"/>
<line x1="581.00" y1="212.00" x2="584.00" y2="212.00" stroke="#555" stroke-width="0.8"/>
<circle cx="496.80" cy="273.40" r="2.0" fill="#ff0000"/>
<circle cx="500.20" cy="270.90" r="2.0" fill="#ff0000"/>
<circle cx="497.50" cy="275.10" r="2.0" fill="#ff0000"/>
<circle cx="499.40" cy="280.30" r="2.0" fill="#ff0000"/>
<circle cx="499.00" cy="277.50" r="2.0" fill="#ff0000"/>
<circle cx="496.50" cy="271.50" r="2.0" fill="#ff0000"/>
<circle cx="512.10" cy="247.90" r="2.0" fill="#ff0000"/>
<circle cx="510.50" cy="251.30" r="2.0" fill="#ff0000"/>
<circle cx="513.90" cy="253.90" r="2.0" fill="#ff0000"/>
<circle cx="515.20" cy="256.40" r="2.0" fill="#ff0000"/>
<circle cx="512.00" cy="250.00" r="2.0" fill="#ff0000"/>
<circle cx="511.50" cy="254.00" r="2.0" fill="#ff0000"/>
<circle cx="524.10" cy="251.30" r="2.0" fill="#ff0000"/>
<circle cx="526.60" cy="249.60" r="2.0" fill="#ff0000"/>
<circle cx="529.20" cy="253.90" r="2.0" fill="#ff0000"/>
<circle cx="527.00" cy="252.00" r="2.0" fill="#ff0000"/>
<circle cx="525.00" cy="253.00" r="2.0" fill="#ff0000"/>
<circle cx="541.10" cy="233.40" r="2.0" fill="#ff0000"/>
<circle cx="538.90" cy="237.70" r="2.0" fill="#ff0000"/>
<circle cx="537.70" cy="241.90" r="2.0" fill="#ff0000"/>
<circle cx="541.10" cy="242.80" r="2.0" fill="#ff0000"/>
<circle cx="542.80" cy="247.00" r="2.0" fill="#ff0000"/>
<circle cx="540.00" cy="236.00" r="2.0" fill="#ff0000"/>
<circle cx="553.30" cy="195.70" r="2.0" fill="#ff0000"/>
<circle cx="556.20" cy="198.70" r="2.0" fill="#ff0000"/>
<circle cx="551.90" cy="202.10" r="2.0" fill="#ff0000"/>
<circle cx="552.80" cy="207.30" r="2.0" fill="#ff0000"/>
<circle cx="556.20" cy="210.30" r="2.0" fill="#ff0000"/>
<circle cx="554.00" cy="205.00" r="2.0" fill="#ff0000"/>
<circle cx="568.60" cy="212.00" r="2.0" fill="#ff0000"/>
<circle cx="566.90" cy="215.80" r="2.0" fill="#ff0000"/>
<circle cx="566.40" cy="221.70" r="2.0" fill="#ff0000"/>
<circle cx="570.30" cy="224.60" r="2.0" fill="#ff0000"/>
<circle cx="568.00" cy="219.00" r="2.0" fill="#ff0000"/>
<circle cx="582.20" cy="200.80" r="2.0" fill="#ff0000"/>
<circle cx="580.00" cy="207.30" r="2.0" fill="#ff0000"/>
<circle cx="584.00" cy="212.40" r="2.0" fill="#ff0000"/>
<circle cx="581.50" cy="210.00" r="2.0" fill="#ff0000"/>
<circle cx="583.00" cy="206.00" r="2.0" fill="#ff0000"/>
<text x="498.70" y="2.30" font-size="6.4" text-anchor="middle" font-weight="bold" fill="#111" stroke="#111" stroke-width="0.18"></text>
<text x="512.70" y="2.30" font-size="6.4" text-anchor="middle" font-weight="bold" fill="#111" stroke="#111" stroke-width="0.18"></text>
<text x="526.50" y="2.30" font-size="6.4" text-anchor="middle" font-weight="bold" fill="#111" stroke="#111" stroke-width="0.18"></text>
<text x="540.60" y="2.30" font-size="6.4" text-anchor="middle" font-weight="bold" fill="#111" stroke="#111" stroke-width="0.18"></text>
<text x="554.40" y="2.30" font-size="6.4" text-anchor="middle" font-weight="bold" fill="#111" stroke="#111" stroke-width="0.18"></text>
<text x="568.40" y="2.30" font-size="6.4" text-anchor="middle" font-weight="bold" fill="#111" stroke="#111" stroke-width="0.18"></text>
<text x="582.50" y="2.30" font-size="6.4" text-anchor="middle" font-weight="bold" fill="#111" stroke="#111" stroke-width="0.18"></text>
<text x="512.60" y="245.40" font-size="6.9" text-anchor="middle" font-weight="bold" fill="#222" stroke="#222" stroke-width="0.05">*</text>
<text x="525.60" y="245.40" font-size="6.9" text-anchor="middle" font-weight="bold" fill="#222" stroke="#222" stroke-width="0.05">*</text>
<text x="540.60" y="231.60" font-size="6.9" text-anchor="middle" font-weight="bold" fill="#222" stroke="#222" stroke-width="0.05">**</text>
<text x="554.40" y="194.00" font-size="6.9" text-anchor="middle" font-weight="bold" fill="#222" stroke="#222" stroke-width="0.05">****</text>
<text x="568.40" y="209.80" font-size="6.9" text-anchor="middle" font-weight="bold" fill="#222" stroke="#222" stroke-width="0.05">****</text>
<text x="582.50" y="198.80" font-size="6.9" text-anchor="middle" font-weight="bold" fill="#222" stroke="#222" stroke-width="0.05">****</text>
<text x="530.70" y="218.40" font-size="6.9" text-anchor="middle" font-weight="bold" fill="#222" stroke="#222" stroke-width="0.05">*</text>
<text x="537.00" y="186.50" font-size="6.9" text-anchor="middle" font-weight="bold" fill="#222" stroke="#222" stroke-width="0.05">****</text>
<text x="545.00" y="179.40" font-size="6.9" text-anchor="middle" font-weight="bold" fill="#222" stroke="#222" stroke-width="0.05">**</text>
<text x="549.70" y="171.80" font-size="6.9" text-anchor="middle" font-weight="bold" fill="#222" stroke="#222" stroke-width="0.05">***</text>
<line x1="518.40" y1="170.80" x2="518.40" y2="235.40" stroke="#555" stroke-width="0.8"/>
<line x1="512.30" y1="235.40" x2="524.50" y2="235.40" stroke="#555" stroke-width="0.8"/>
<line x1="518.40" y1="170.80" x2="582.10" y2="170.80" stroke="#555" stroke-width="0.8"/>
<line x1="518.40" y1="179.40" x2="566.50" y2="179.40" stroke="#555" stroke-width="0.8"/>
<line x1="518.40" y1="185.90" x2="554.00" y2="185.90" stroke="#555" stroke-width="0.8"/>
<line x1="518.40" y1="218.70" x2="542.10" y2="218.70" stroke="#555" stroke-width="0.8"/>
<text x="500.70" y="297.70" font-size="7.8" text-anchor="end" font-weight="bold" fill="#111" stroke="#111" stroke-width="0.18" transform="rotate(-45 500.70 297.70)">Control</text>
<text x="514.70" y="297.70" font-size="7.8" text-anchor="end" font-weight="bold" fill="#111" stroke="#111" stroke-width="0.18" transform="rotate(-45 514.70 297.70)">Max. annexin V-FITC</text>
<text x="528.50" y="297.70" font-size="7.8" text-anchor="end" font-weight="bold" fill="#111" stroke="#111" stroke-width="0.18" transform="rotate(-45 528.50 297.70)">Max. Sytox green</text>
<text x="542.60" y="297.70" font-size="7.8" text-anchor="end" font-weight="bold" fill="#111" stroke="#111" stroke-width="0.18" transform="rotate(-45 542.60 297.70)">H₂O₂</text>
<text x="556.40" y="297.70" font-size="7.8" text-anchor="end" font-weight="bold" fill="#111" stroke="#111" stroke-width="0.18" transform="rotate(-45 556.40 297.70)">Heat treatment</text>
<text x="570.40" y="297.70" font-size="7.8" text-anchor="end" font-weight="bold" fill="#111" stroke="#111" stroke-width="0.18" transform="rotate(-45 570.40 297.70)">Pcc-WT-AE</text>
<text x="584.50" y="297.70" font-size="7.8" text-anchor="end" font-weight="bold" fill="#111" stroke="#111" stroke-width="0.18" transform="rotate(-45 584.50 297.70)">Pcc-KETc7-AE</text>
<text x="467.00" y="233.80" font-size="7.8" text-anchor="middle" font-weight="bold" fill="#111" stroke="#111" stroke-width="0.18" letter-spacing="0.3" transform="rotate(-90 467.00 233.80)">Fluorescence (RFU)</text>
</svg></body></html>
